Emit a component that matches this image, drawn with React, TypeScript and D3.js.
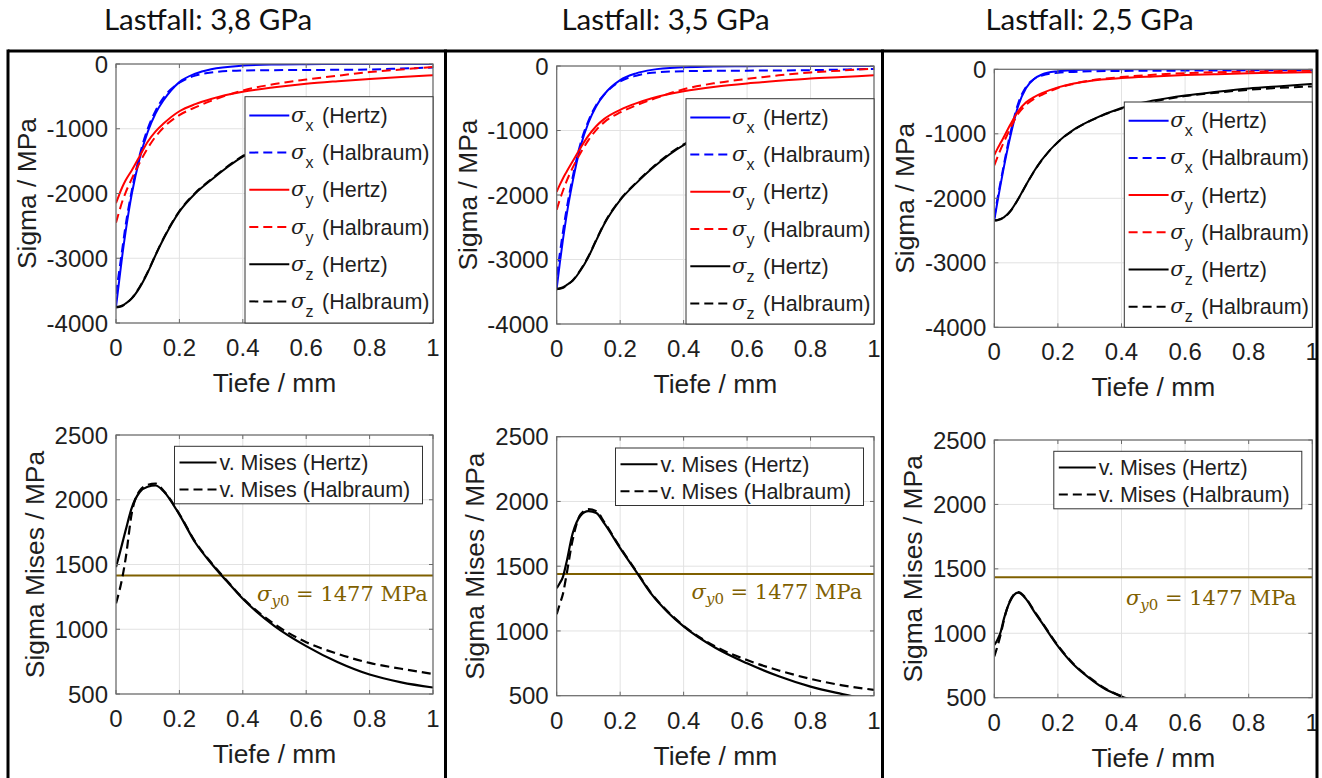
import React from "react";
import * as d3 from "d3";

// ---------- DATA ----------
const TITLES = ["Lastfall: 3,8 GPa", "Lastfall: 3,5 GPa", "Lastfall: 2,5 GPa"];

// depth (mm) for the stress component curves
const DEPTH = [0, 0.01, 0.02, 0.03, 0.05, 0.075, 0.1, 0.125, 0.15, 0.2, 0.25, 0.3, 0.4, 0.5, 0.6, 0.7, 0.8, 0.9, 1.0];

// Lastfall 3,8 GPa
const SX_H_38 = [-3750, -3350, -2950, -2600, -2000, -1450, -1050, -760, -560, -280, -150, -80, -25, -8, -3, -1, 0, 0, 0];
const SX_HB_38 = [-3550, -3200, -2850, -2500, -1950, -1400, -1000, -720, -520, -290, -180, -130, -100, -95, -92, -90, -85, -70, -55];
const SY_H_38 = [-2150, -2020, -1900, -1800, -1640, -1420, -1200, -1040, -920, -730, -620, -540, -430, -360, -305, -265, -230, -200, -175];
const SY_HB_38 = [-2450, -2280, -2120, -1990, -1770, -1520, -1300, -1120, -980, -790, -670, -570, -410, -310, -240, -180, -125, -85, -45];
const SZ_H_38 = [-3750, -3745, -3730, -3700, -3620, -3450, -3220, -2950, -2700, -2280, -2000, -1790, -1430, -1210, -1040, -910, -810, -730, -660];
const SZ_HB_38 = [-3760, -3755, -3740, -3705, -3615, -3440, -3210, -2945, -2690, -2270, -1990, -1780, -1420, -1200, -1035, -905, -805, -725, -655];

// Lastfall 3,5 GPa
const SX_H_35 = [-3450, -3050, -2680, -2350, -1800, -1250, -880, -620, -440, -220, -115, -60, -20, -6, -2, 0, 0, 0, 0];
const SX_HB_35 = [-3250, -2900, -2560, -2250, -1730, -1200, -850, -600, -440, -240, -150, -105, -80, -75, -72, -70, -65, -55, -45];
const SY_H_35 = [-1950, -1840, -1740, -1650, -1480, -1270, -1080, -930, -820, -680, -580, -500, -390, -320, -270, -230, -195, -170, -145];
const SY_HB_35 = [-2230, -2070, -1930, -1800, -1580, -1350, -1150, -990, -870, -720, -610, -520, -360, -265, -200, -145, -100, -70, -40];
const SZ_H_35 = [-3450, -3445, -3430, -3400, -3330, -3170, -2960, -2700, -2450, -2080, -1820, -1590, -1225, -1030, -880, -770, -680, -610, -550];
const SZ_HB_35 = [-3460, -3455, -3440, -3405, -3325, -3160, -2950, -2690, -2440, -2070, -1810, -1580, -1215, -1020, -875, -765, -675, -605, -545];

// Lastfall 2,5 GPa
const SX_H_25 = [-2340, -2050, -1780, -1520, -1050, -570, -290, -150, -80, -30, -12, -5, -1, 0, 0, 0, 0, 0, 0];
const SX_HB_25 = [-2300, -2000, -1740, -1480, -1000, -530, -270, -150, -95, -55, -40, -32, -25, -22, -20, -18, -16, -15, -14];
const SY_H_25 = [-1330, -1230, -1140, -1050, -860, -650, -510, -430, -370, -280, -220, -180, -135, -110, -90, -75, -62, -52, -45];
const SY_HB_25 = [-1490, -1360, -1240, -1130, -920, -690, -550, -460, -395, -290, -225, -175, -120, -85, -60, -45, -35, -28, -22];
const SZ_H_25 = [-2340, -2335, -2320, -2295, -2200, -2010, -1790, -1580, -1400, -1125, -935, -800, -600, -485, -405, -348, -298, -262, -228];
const SZ_HB_25 = [-2345, -2340, -2325, -2300, -2205, -2015, -1795, -1585, -1405, -1130, -940, -805, -610, -500, -415, -362, -318, -287, -266];

// depth (mm) for the von Mises curves
const MDEPTH = [0, 0.01, 0.02, 0.03, 0.05, 0.075, 0.1, 0.125, 0.15, 0.2, 0.25, 0.3, 0.35, 0.4, 0.5, 0.6, 0.7, 0.8, 0.9, 1.0];
const MISES_H_38 = [1480, 1570, 1665, 1760, 1940, 2060, 2100, 2110, 2065, 1885, 1670, 1510, 1370, 1235, 1025, 870, 745, 650, 590, 550];
const MISES_HB_38 = [1200, 1290, 1400, 1540, 1900, 2070, 2115, 2125, 2070, 1890, 1675, 1515, 1375, 1240, 1040, 900, 810, 740, 695, 655];
const MISES_H_35 = [1330, 1370, 1420, 1520, 1750, 1890, 1925, 1910, 1830, 1640, 1460, 1280, 1145, 1035, 870, 750, 650, 570, 512, 460];
const MISES_HB_35 = [1130, 1210, 1290, 1420, 1700, 1900, 1940, 1925, 1840, 1645, 1465, 1285, 1150, 1040, 880, 775, 695, 630, 580, 545];
const MISES_H_25 = [910, 950, 1010, 1110, 1250, 1315, 1265, 1170, 1080, 900, 755, 650, 565, 510, 420, 360, 310, 275, 245, 220];
const MISES_HB_25 = [820, 900, 990, 1100, 1255, 1320, 1270, 1175, 1085, 905, 760, 655, 570, 512, 425, 365, 315, 280, 250, 225];

// yield line level as drawn, and label position (data units)
const YIELD_LEVEL = [1415, 1440, 1435];
const YIELD_LABEL_X = [0.445, 0.425, 0.414];
const YIELD_LABEL_Y = [1220, 1245, 1220];
const YIELD_VALUE = "1477 MPa";

const X_TICKS = [0, 0.2, 0.4, 0.6, 0.8, 1];
const STRESS_TICKS = [0, -1000, -2000, -3000, -4000];
const MISES_TICKS = [500, 1000, 1500, 2000, 2500];

const STRESS_SERIES = [
  [SX_H_38, SX_HB_38, SY_H_38, SY_HB_38, SZ_H_38, SZ_HB_38],
  [SX_H_35, SX_HB_35, SY_H_35, SY_HB_35, SZ_H_35, SZ_HB_35],
  [SX_H_25, SX_HB_25, SY_H_25, SY_HB_25, SZ_H_25, SZ_HB_25],
];
const MISES_SERIES = [
  [MISES_H_38, MISES_HB_38],
  [MISES_H_35, MISES_HB_35],
  [MISES_H_25, MISES_HB_25],
];

const STRESS_LEGEND = [
  { sub: "x", src: "(Hertz)" },
  { sub: "x", src: "(Halbraum)" },
  { sub: "y", src: "(Hertz)" },
  { sub: "y", src: "(Halbraum)" },
  { sub: "z", src: "(Hertz)" },
  { sub: "z", src: "(Halbraum)" },
];
const MISES_LEGEND = ["v. Mises (Hertz)", "v. Mises (Halbraum)"];

// ---------- STYLE / LAYOUT ----------
const STRESS_COLORS = ["#0000ff", "#0000ff", "#ff0000", "#ff0000", "#000000", "#000000"];
const STRESS_DASHED = [false, true, false, true, false, true];
const DASH = "9 5";
const YIELD_COLOR = "#7f6000";
const SANS = "'Liberation Sans', Arial, Helvetica, sans-serif";
const SERIF = "'DejaVu Serif', 'Liberation Serif', serif";
const AXIS_COLOR = "#6a6a6a";
const GRID_COLOR = "#e2e2e2";
const TEXT_COLOR = "#1e1e1e";

type Frame = { l: number; r: number; t: number; b: number };
const TOP_FRAMES: Frame[] = [
  { l: 116, r: 433, t: 64, b: 323 },
  { l: 556.7, r: 874, t: 66, b: 324 },
  { l: 994.3, r: 1312.3, t: 69.3, b: 327.3 },
];
const BOTTOM_FRAMES: Frame[] = [
  { l: 116, r: 433, t: 435, b: 694 },
  { l: 556.7, r: 874, t: 436.7, b: 695.7 },
  { l: 994.3, r: 1312.3, t: 440, b: 697.7 },
];
const TITLE_X = [208, 665.5, 1089.5];
const BOX_X = [8, 445.5, 882.5, 1317];

function Axes({ f, x, y, xt, yt, ylabel, ylabelOff, id, children }: any) {
  return (
    <g>
      <defs>
        <clipPath id={id}>
          <rect x={f.l} y={f.t} width={f.r - f.l} height={f.b - f.t} />
        </clipPath>
      </defs>
      <rect x={f.l} y={f.t} width={f.r - f.l} height={f.b - f.t} fill="#fff" />
      {xt.map((v: number) => (
        <line key={"gx" + v} x1={x(v)} x2={x(v)} y1={f.t} y2={f.b} stroke={GRID_COLOR} strokeWidth={1} />
      ))}
      {yt.map((v: number) => (
        <line key={"gy" + v} x1={f.l} x2={f.r} y1={y(v)} y2={y(v)} stroke={GRID_COLOR} strokeWidth={1} />
      ))}
      <g clipPath={`url(#${id})`}>{children}</g>
      {xt.map((v: number) => (
        <text key={"tx" + v} x={x(v)} y={f.b + 33} textAnchor="middle" fontFamily={SANS} fontSize={24} fill={TEXT_COLOR}>
          {String(v)}
        </text>
      ))}
      {yt.map((v: number) => (
        <text key={"ty" + v} x={f.l - 8} y={y(v)} dy="0.36em" textAnchor="end" fontFamily={SANS} fontSize={24} fill={TEXT_COLOR}>
          {String(v)}
        </text>
      ))}
      <text x={(f.l + f.r) / 2} y={f.b + 69} textAnchor="middle" fontFamily={SANS} fontSize={26.4} fill={TEXT_COLOR}>
        Tiefe / mm
      </text>
      <text
        transform={`translate(${f.l - ylabelOff},${(f.t + f.b) / 2}) rotate(-90)`}
        textAnchor="middle"
        fontFamily={SANS}
        fontSize={26.4}
        fill={TEXT_COLOR}
      >
        {ylabel}
      </text>
    </g>
  );
}

function AxisBox({ f, x, y, xt, yt }: any) {
  const tl = 4;
  return (
    <g>
      {xt.map((v: number) => (
        <g key={"k" + v}>
          <line x1={x(v)} x2={x(v)} y1={f.b} y2={f.b - tl} stroke={AXIS_COLOR} />
          <line x1={x(v)} x2={x(v)} y1={f.t} y2={f.t + tl} stroke={AXIS_COLOR} />
        </g>
      ))}
      {yt.map((v: number) => (
        <g key={"k" + v}>
          <line x1={f.l} x2={f.l + tl} y1={y(v)} y2={y(v)} stroke={AXIS_COLOR} />
          <line x1={f.r} x2={f.r - tl} y1={y(v)} y2={y(v)} stroke={AXIS_COLOR} />
        </g>
      ))}
      <rect x={f.l} y={f.t} width={f.r - f.l} height={f.b - f.t} fill="none" stroke={AXIS_COLOR} strokeWidth={1.2} />
    </g>
  );
}

function StressPanel({ k }: { k: number }) {
  const f = TOP_FRAMES[k];
  const x = d3.scaleLinear().domain([0, 1]).range([f.l, f.r]);
  const y = d3.scaleLinear().domain([-4000, 0]).range([f.b, f.t]);
  const line = d3
    .line<number>()
    .x((_, i) => x(DEPTH[i]))
    .y((d) => y(d))
    .curve(d3.curveMonotoneX);
  const lg = { l: f.r - 188, t: f.t + 32.7, r: f.r, b: f.b };
  return (
    <g>
      <Axes f={f} x={x} y={y} xt={X_TICKS} yt={STRESS_TICKS} ylabel="Sigma / MPa" ylabelOff={80} id={"cs" + k}>
        {STRESS_SERIES[k].map((s, i) => (
          <path
            key={i}
            d={line(s) || ""}
            fill="none"
            stroke={STRESS_COLORS[i]}
            strokeWidth={2}
            strokeDasharray={STRESS_DASHED[i] ? DASH : undefined}
          />
        ))}
      </Axes>
      <AxisBox f={f} x={x} y={y} xt={X_TICKS} yt={STRESS_TICKS} />
      <rect x={lg.l} y={lg.t} width={lg.r - lg.l} height={lg.b - lg.t} fill="#fff" stroke="#333" strokeWidth={1} />
      {STRESS_LEGEND.map((e, i) => {
        const cy = lg.t + 18.7 + 37.2 * i;
        return (
          <g key={i}>
            <line
              x1={lg.l + 4.3}
              x2={lg.l + 44.3}
              y1={cy}
              y2={cy}
              stroke={STRESS_COLORS[i]}
              strokeWidth={2}
              strokeDasharray={STRESS_DASHED[i] ? DASH : undefined}
            />
            <text x={lg.l + 46} y={cy + 6.5} fontFamily={SERIF} fontStyle="italic" fontSize={21} fill={TEXT_COLOR}>
              σ
            </text>
            <text x={lg.l + 60.5} y={cy + 15.5} fontFamily={SANS} fontSize={16} fill={TEXT_COLOR}>
              {e.sub}
            </text>
            <text x={lg.l + 77} y={cy + 7.5} fontFamily={SANS} fontSize={21.5} fill={TEXT_COLOR}>
              {e.src}
            </text>
          </g>
        );
      })}
    </g>
  );
}

function MisesPanel({ k }: { k: number }) {
  const f = BOTTOM_FRAMES[k];
  const x = d3.scaleLinear().domain([0, 1]).range([f.l, f.r]);
  const y = d3.scaleLinear().domain([500, 2500]).range([f.b, f.t]);
  const line = d3
    .line<number>()
    .x((_, i) => x(MDEPTH[i]))
    .y((d) => y(d))
    .curve(d3.curveMonotoneX);
  const lg = { l: f.r - 258.5, r: f.r - 10.5, t: f.t + 11.3 };
  const ly = YIELD_LEVEL[k];
  return (
    <g>
      <Axes f={f} x={x} y={y} xt={X_TICKS} yt={MISES_TICKS} ylabel="Sigma Mises / MPa" ylabelOff={72.5} id={"cm" + k}>
        <line x1={f.l} x2={f.r} y1={y(ly)} y2={y(ly)} stroke={YIELD_COLOR} strokeWidth={2} />
        {MISES_SERIES[k].map((s, i) => (
          <path key={i} d={line(s) || ""} fill="none" stroke="#000" strokeWidth={2.2} strokeDasharray={i === 1 ? DASH : undefined} />
        ))}
      </Axes>
      <text x={x(YIELD_LABEL_X[k])} y={y(YIELD_LABEL_Y[k])} fontFamily={SERIF} fontSize={21} fill={YIELD_COLOR}>
        <tspan fontStyle="italic">σ</tspan>
        <tspan fontSize={15} dy={5}>
          <tspan fontStyle="italic">y</tspan>0
        </tspan>
        <tspan dy={-5}>{" = " + YIELD_VALUE}</tspan>
      </text>
      <AxisBox f={f} x={x} y={y} xt={X_TICKS} yt={MISES_TICKS} />
      <rect x={lg.l} y={lg.t} width={lg.r - lg.l} height={57.5} fill="#fff" stroke="#333" strokeWidth={1} />
      {MISES_LEGEND.map((t, i) => {
        const cy = lg.t + 16.3 + 27 * i;
        return (
          <g key={i}>
            <line x1={lg.l + 5} x2={lg.l + 42} y1={cy} y2={cy} stroke="#000" strokeWidth={2} strokeDasharray={i === 1 ? DASH : undefined} />
            <text x={lg.l + 45} y={cy + 7.5} fontFamily={SANS} fontSize={21.5} fill={TEXT_COLOR}>
              {t}
            </text>
          </g>
        );
      })}
    </g>
  );
}

export default function App() {
  const W = 1322;
  const H = 778;
  return (
    <svg
      width={W}
      height={H}
      viewBox={`0 0 ${W} ${H}`}
      style={{ position: "absolute", left: 0, top: 0, display: "block", background: "#fff" }}
    >
      <rect x={0} y={0} width={W} height={H} fill="#fff" />
      {TITLES.map((t, i) => (
        <text key={t} x={TITLE_X[i]} y={30} textAnchor="middle" fontFamily="Lato, 'Open Sans', sans-serif" fontSize={29.5} fill="#111">
          {t}
        </text>
      ))}
      {[0, 1, 2].map((k) => (
        <StressPanel key={"s" + k} k={k} />
      ))}
      {[0, 1, 2].map((k) => (
        <MisesPanel key={"m" + k} k={k} />
      ))}
      <line x1={BOX_X[0]} x2={BOX_X[3]} y1={51} y2={51} stroke="#000" strokeWidth={3} />
      {BOX_X.map((bx, i) => (
        <line key={i} x1={bx} x2={bx} y1={49.5} y2={H + 5} stroke="#000" strokeWidth={3} />
      ))}
    </svg>
  );
}
